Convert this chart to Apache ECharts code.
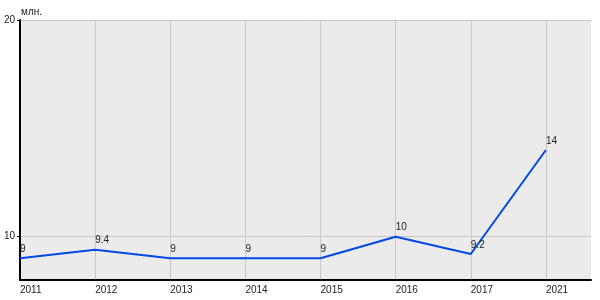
<!DOCTYPE html>
<html><head><meta charset="utf-8">
<script src="https://cdn.jsdelivr.net/npm/echarts@6/dist/echarts.min.js"></script>
<style>html,body{margin:0;padding:0;background:#fff}#c{width:600px;height:300px}</style>
</head><body><div id="c"></div>
<script>
const categories = ['2011','2012','2013','2014','2015','2016','2017','2021'];
const values = [9, 9.4, 9, 9, 9, 10, 9.2, 14];
const yTicks = [10, 20];
const unitLabel = 'млн.';

const font = "'Liberation Sans', Arial, sans-serif";
const idx = categories.map((c, i) => i);
const chart = echarts.init(document.getElementById('c'), null, {renderer: 'canvas'});
chart.setOption({
  animation: false,
  backgroundColor: '#ffffff',
  grid: {left: 20, right: 9, top: 20, bottom: 20, backgroundColor: '#ebebeb', show: true, borderWidth: 0},
  xAxis: {
    type: 'value', min: 0, max: 7.6, interval: 1,
    axisLine: {show: true, onZero: false, lineStyle: {color: '#000', width: 2}},
    axisTick: {show: false, customValues: idx},
    axisLabel: {customValues: idx, formatter: v => categories[v] || '', align: 'left', margin: 5,
      color: '#222', fontFamily: font, fontSize: 10},
    splitLine: {show: true, lineStyle: {color: '#c8c8c8', width: 1}}
  },
  yAxis: {
    type: 'value', min: 8, max: 20, interval: 2,
    name: unitLabel, nameLocation: 'end', nameGap: 3,
    nameTextStyle: {align: 'left', color: '#222', fontFamily: font, fontSize: 10, padding: [0,0,0,1]},
    axisLine: {show: true, lineStyle: {color: '#000', width: 2}},
    axisTick: {show: true, length: 3, customValues: yTicks, lineStyle: {color: '#000'}},
    axisLabel: {customValues: yTicks, margin: 5, color: '#222', fontFamily: font, fontSize: 10},
    splitLine: {show: true, lineStyle: {color: '#c8c8c8', width: 1}}
  },
  series: [{
    type: 'line',
    data: values.map((v, i) => [i, v]),
    symbol: 'circle', symbolSize: 4, showSymbol: true,
    itemStyle: {color: 'rgba(0,0,0,0)', borderWidth: 0},
    lineStyle: {color: '#0048e8', width: 2},
    label: {show: true, position: 'top', align: 'left', distance: 2,
      color: '#222', fontFamily: font, fontSize: 10, formatter: p => String(p.value[1])},
    silent: true
  }]
});
</script></body></html>
